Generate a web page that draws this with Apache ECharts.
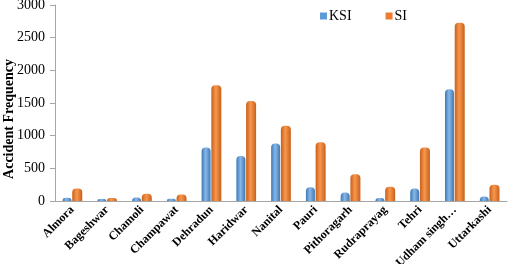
<!DOCTYPE html>
<html>
<head>
<meta charset="utf-8">
<script src="https://cdn.jsdelivr.net/npm/echarts@6/dist/echarts.min.js"></script>
<style>
  html, body { margin: 0; padding: 0; background: #fff; }
  #chart { width: 517px; height: 264px; }
</style>
</head>
<body>
<div id="chart"></div>
<script>
// districts
const districts = ['Almora', 'Bageshwar', 'Chamoli', 'Champawat', 'Dehradun', 'Haridwar', 'Nanital',
  'Pauri', 'Pithoragarh', 'Rudraprayag', 'Tehri', 'Udham singh…', 'Uttarkashi']
const ksiValues = [50, 30, 55, 35, 820, 690, 880, 210, 130, 45, 190, 1710, 70]
const siValues = [190, 45, 110, 100, 1770, 1530, 1150, 900, 410, 220, 820, 2730, 250]
const yTicks = [0, 500, 1000, 1500, 2000, 2500, 3000]

const serif = 'Liberation Serif'
const axisGray = '#a6a6a6'

// cylinder-ish shading
const cyl = (edge, mid) => new echarts.graphic.LinearGradient(0, 0, 1, 0, [
  { offset: 0, color: edge },
  { offset: 0.45, color: mid },
  { offset: 1, color: edge }
])

const chart = echarts.init(document.getElementById('chart'))

chart.setOption({
  animation: false,
  // y axis title, sits a bit below the plot middle like the original
  graphic: [{
    type: 'text',
    x: 9,
    y: 119,
    rotation: Math.PI / 2,
    style: {
      text: 'Accident Frequency',
      font: 'bold 14px "Liberation Serif"',
      fill: '#000',
      align: 'center',
      verticalAlign: 'middle'
    }
  }],
  legend: {
    top: 4,
    left: 315,
    itemWidth: 7,
    itemHeight: 7,
    itemGap: 34,
    icon: 'rect',
    textStyle: { fontFamily: serif, fontSize: 14, color: '#000', padding: [0, 0, 0, -3] },
    data: [
      { name: 'KSI', itemStyle: { color: '#5b9bd5' } },
      { name: 'SI', itemStyle: { color: '#ed7d31' } }
    ]
  },
  grid: { left: 55, right: 10, top: 5, bottom: 63, outerBoundsMode: 'none', containLabel: false },
  xAxis: {
    type: 'category',
    data: districts,
    axisLine: { lineStyle: { color: axisGray } },
    axisTick: { length: 5, lineStyle: { color: axisGray } },
    axisLabel: {
      rotate: 45,
      interval: 0,
      margin: 7,
      fontFamily: serif,
      fontWeight: 'bold',
      fontSize: 12,
      color: '#000'
    }
  },
  yAxis: {
    type: 'value',
    min: yTicks[0],
    max: yTicks[yTicks.length - 1],
    interval: 500,
    axisLine: { show: true, lineStyle: { color: axisGray } },
    axisTick: { show: true, length: 5, lineStyle: { color: axisGray } },
    splitLine: { show: false },
    axisLabel: {
      fontFamily: serif, fontSize: 14, color: '#000', margin: 10,
      formatter: v => String(v)
    }
  },
  series: [
    {
      name: 'KSI',
      type: 'bar',
      data: ksiValues,
      barWidth: 9,
      barGap: '8%',
      itemStyle: {
        color: cyl('#3f78b5', '#86b8e8'),
        borderRadius: [4, 4, 0, 0]
      }
    },
    {
      name: 'SI',
      type: 'bar',
      data: siValues,
      barWidth: 10,
      itemStyle: {
        color: cyl('#c8601b', '#f7974e'),
        borderRadius: [4, 4, 0, 0]
      }
    }
  ]
})
</script>
</body>
</html>
